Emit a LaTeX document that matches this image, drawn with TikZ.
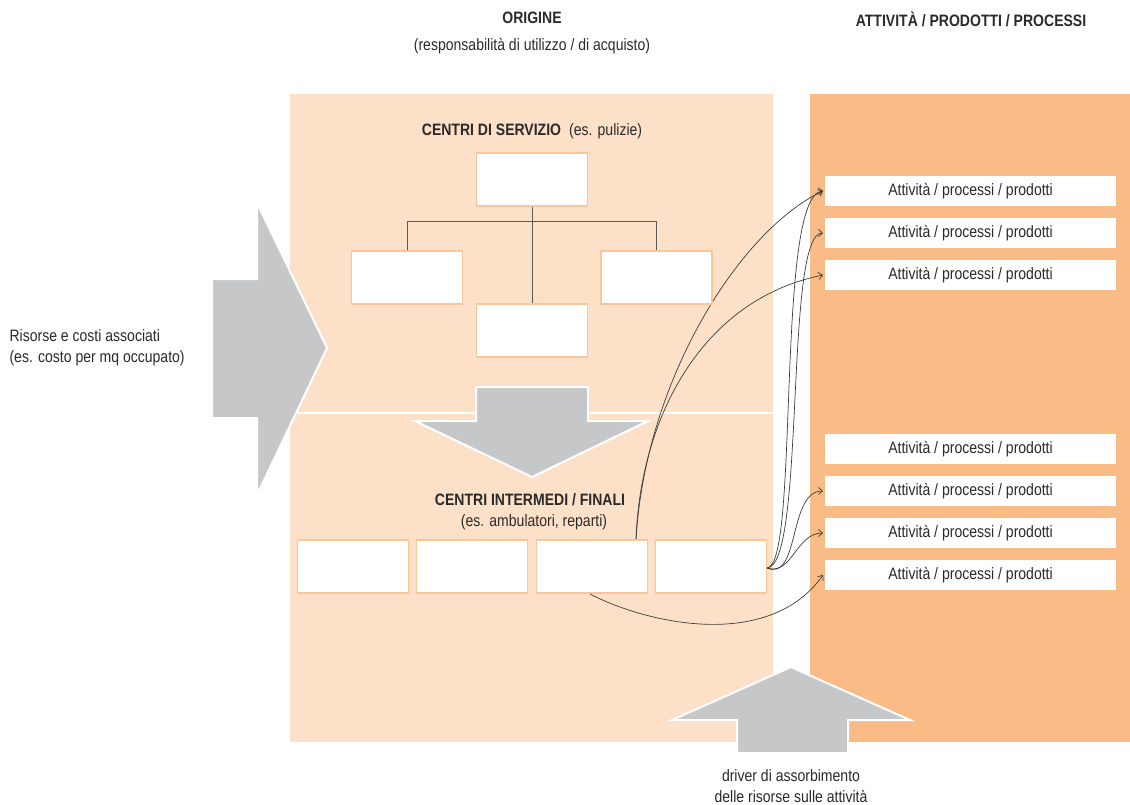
\documentclass[tikz,border=0pt]{standalone}
\usepackage{fontspec}
\setmainfont{Liberation Sans}[FakeStretch=0.85]
\usetikzlibrary{arrows.meta}
\definecolor{palepanel}{HTML}{FDE0C8}
\definecolor{orangepanel}{HTML}{F9BC87}
\definecolor{boxedge}{HTML}{FAC59A}
\definecolor{arrowgray}{HTML}{C6C7C9}
\definecolor{inkgray}{HTML}{2B2A29}
\definecolor{linegray}{HTML}{3C3C3C}
\begin{document}
\begin{tikzpicture}[x=1pt,y=-1pt,
  every node/.style={text=inkgray,font=\fontsize{16.5}{21}\selectfont},
  cbox/.style={draw=boxedge,line width=1.4pt,fill=white,minimum width=111pt,minimum height=53pt,inner sep=0pt},
  abox/.style={draw=none,fill=white,minimum width=291pt,minimum height=30pt,inner sep=0pt},
  bigarrow/.style={fill=arrowgray,draw=white,line width=2pt,line join=miter},
  tree/.style={draw=linegray!85,line width=1pt},
  flow/.style={draw=linegray,line width=0.7pt},
  flowtip/.style={flow,-{Straight Barb[length=4pt,width=7pt]}}]
\useasboundingbox (0,0) rectangle (1130,804);

% background panels
\fill[palepanel] (290,94) rectangle (773,742);
\fill[orangepanel] (810,94) rectangle (1130,742);
\draw[white,line width=2pt] (290,413) -- (773,413);

% titles
\node[align=center,font=\fontsize{16.5}{27}\selectfont] (origine) at (532,33) {\textbf{ORIGINE}\\(responsabilità di utilizzo / di acquisto)};
\node (attivita) at (971,19) {\textbf{ATTIVITÀ / PRODOTTI / PROCESSI}};
\node (servizio) at (532,131) {\textbf{CENTRI DI SERVIZIO}\hspace{8pt}(es. pulizie)};
\node[align=center] (intermedi) at (530,512) {\textbf{CENTRI INTERMEDI / FINALI}\\\hspace{8pt}(es. ambulatori, reparti)};
\node[align=left,anchor=west] (risorse) at (6,348) {Risorse e costi associati\\(es. costo per mq occupato)};
\node[align=center] (driver) at (791,786) {driver di assorbimento\\delle risorse sulle attività};

% large grey arrows
\path[bigarrow] (212,279) -- (257,279) -- (257,203) -- (327,348) -- (257,495) -- (257,418) -- (212,418) -- cycle;
\path[bigarrow] (476,387) -- (588,387) -- (588,421) -- (648,421) -- (532,477) -- (415,421) -- (476,421) -- cycle;
\path[bigarrow] (737,753) -- (737,720) -- (672,720) -- (791,667) -- (910,720) -- (848,720) -- (848,753) -- cycle;

% activity boxes
\foreach \n/\y in {1/191,2/233,3/275,4/449,5/491,6/533,7/575}
  \node[abox] (a\n) at (970.5,\y) {Attività / processi / prodotti};

% coordinates for the fan of connectors
\coordinate (c3top) at (636,540);
\coordinate (c4side) at (767,568);
\coordinate (c3bot) at (590,594);
\coordinate (t1) at (823,191);
\coordinate (t2) at (823,233);
\coordinate (t3) at (823,275);
\coordinate (t5) at (823,491);
\coordinate (t6) at (823,533);
\coordinate (t7) at (823,575);

% flows from the intermediate centres to activities
\draw[flowtip] (c3top) .. controls (645,380) and (740,230) .. (t1);
\draw[flowtip] (c3top) .. controls (640,420) and (700,300) .. (t3);
\draw[flowtip] (c4side) .. controls (800,566) and (775,195) .. (t1);
\draw[flowtip] (c4side) .. controls (806,566) and (784,233) .. (t2);
\draw[flowtip] (c4side) .. controls (800,582) and (788,491) .. (t5);
\draw[flowtip] (c4side) .. controls (792,576) and (796,533) .. (t6);
\draw[flowtip] (c3bot) .. controls (650,625) and (770,650) .. (t7);

% service centres
\node[cbox] (s0) at (532,179.5) {};
\node[cbox] (s1) at (407,277.5) {};
\node[cbox] (s2) at (656.5,277.5) {};
\node[cbox] (s3) at (532,330.5) {};
\draw[tree] (s0.south) -- (s3.north);
\draw[tree] (s1.north) -- ++(0,-29) -| (s2.north);

% intermediate / final centres
\node[cbox] (c1) at (353,566.5) {};
\node[cbox] (c2) at (472,566.5) {};
\node[cbox] (c3) at (592,566.5) {};
\node[cbox] (c4) at (711,566.5) {};
\end{tikzpicture}
\end{document}
